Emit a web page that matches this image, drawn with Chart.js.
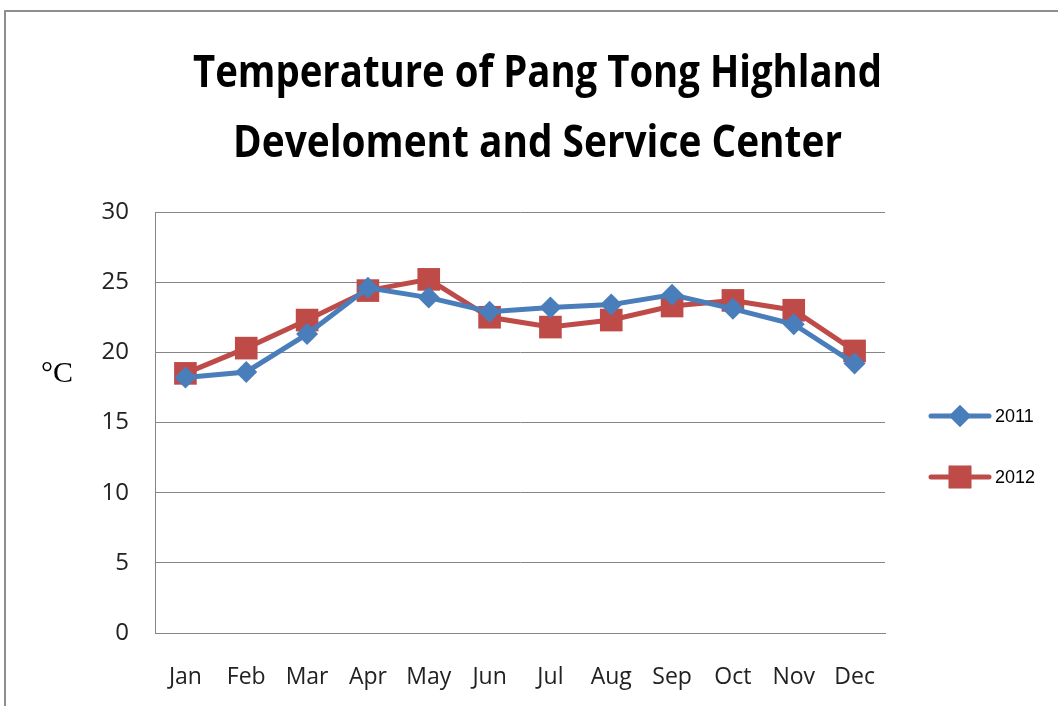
<!DOCTYPE html>
<html><head><meta charset="utf-8">
<script src="https://cdn.jsdelivr.net/npm/chart.js@4"></script>
<style>html,body{margin:0;padding:0;background:#fff;}#wrap{width:1058px;height:706px;position:relative;}</style>
</head><body><div id="wrap"><canvas id="c" width="1058" height="706"></canvas></div>
<script>
const categories = ['Jan','Feb','Mar','Apr','May','Jun','Jul','Aug','Sep','Oct','Nov','Dec'];
const series2011 = [18.2, 18.6, 21.3, 24.6, 23.9, 22.9, 23.2, 23.4, 24.1, 23.1, 22.0, 19.2];
const series2012 = [18.5, 20.3, 22.3, 24.4, 25.2, 22.5, 21.8, 22.3, 23.3, 23.7, 23.0, 20.1];
const seriesNames = ['2011', '2012'];
const yTicks = [0, 5, 10, 15, 20, 25, 30];
const titleLines = ['Temperature of Pang Tong Highland', 'Develoment and Service Center'];
const unitLabel = '°C';

const BLUE = '#4A7EBB', RED = '#BE4B48', GRID = '#868686';

const decor = {
  id: 'decor',
  afterDraw(chart) {
    const ctx = chart.ctx;
    ctx.save();
    // frame
    ctx.strokeStyle = '#8e8e8e'; ctx.lineWidth = 2;
    ctx.beginPath(); ctx.moveTo(5, 706); ctx.lineTo(5, 11); ctx.lineTo(1058, 11); ctx.stroke();
    // title
    ctx.fillStyle = '#000'; ctx.textAlign = 'left'; ctx.textBaseline = 'alphabetic';
    ctx.font = 'bold 44px "Open Sans"';
    const targets = [[537.5, 87, 689], [537.5, 157, 609]];
    titleLines.forEach((t, i) => {
      const w = ctx.measureText(t).width;
      const sx = targets[i][2] / w;
      ctx.save();
      ctx.translate(targets[i][0] - targets[i][2] / 2, targets[i][1]);
      ctx.scale(sx, 1);
      ctx.fillText(t, 0, 0);
      ctx.restore();
    });
    // unit label
    ctx.font = '30px "Liberation Serif"';
    ctx.fillText(unitLabel, 41, 382);
    // legend
    const items = [[seriesNames[0], BLUE, 'rectRot', 416, 11], [seriesNames[1], RED, 'rect', 477, 16]];
    items.forEach(([name, col, style, y, r]) => {
      ctx.strokeStyle = col; ctx.lineWidth = 5; ctx.lineCap = 'round';
      ctx.beginPath(); ctx.moveTo(931, y); ctx.lineTo(989, y); ctx.stroke();
      ctx.fillStyle = col;
      Chart.helpers.drawPoint(ctx, {pointStyle: style, radius: r, rotation: 0, borderWidth: 0}, 960, y);
      ctx.fill();
      ctx.fillStyle = '#000'; ctx.font = '18px "Liberation Sans"'; ctx.textBaseline = 'middle';
      ctx.fillText(name, 995, y + 1);
    });
    ctx.restore();
  }
};

new Chart(document.getElementById('c'), {
  type: 'line',
  data: {
    labels: categories,
    datasets: [
      {label: seriesNames[0], data: series2011, borderColor: BLUE, backgroundColor: BLUE, borderWidth: 5,
       pointStyle: 'rectRot', pointRadius: 11, pointHoverRadius: 11, pointBorderWidth: 0, tension: 0},
      {label: seriesNames[1], data: series2012, borderColor: RED, backgroundColor: RED, borderWidth: 5,
       pointStyle: 'rect', pointRadius: 16, pointHoverRadius: 16, pointBorderWidth: 0, tension: 0}
    ]
  },
  options: {
    responsive: false, animation: false,
    layout: {padding: {top: 212, right: 173, left: 0, bottom: 0}},
    plugins: {legend: {display: false}, title: {display: false}, tooltip: {enabled: false}},
    scales: {
      x: {
        offset: true,
        grid: {display: false, drawTicks: false},
        border: {display: true, color: GRID, width: 1},
        ticks: {color: '#222', font: {family: '"Open Sans"', size: 23}, padding: 31, maxRotation: 0, autoSkip: false},
        afterFit(s) { s.height = 73; }
      },
      y: {
        min: 0, max: 30,
        afterBuildTicks(s) { s.ticks = yTicks.map(v => ({value: v})); },
        grid: {color: GRID, lineWidth: 1, drawTicks: false},
        border: {display: true, color: GRID, width: 1},
        ticks: {color: '#222', font: {family: '"Open Sans"', size: 24}, padding: 26},
        afterFit(s) { s.width = 155; }
      }
    }
  },
  plugins: [decor]
});
</script></body></html>
